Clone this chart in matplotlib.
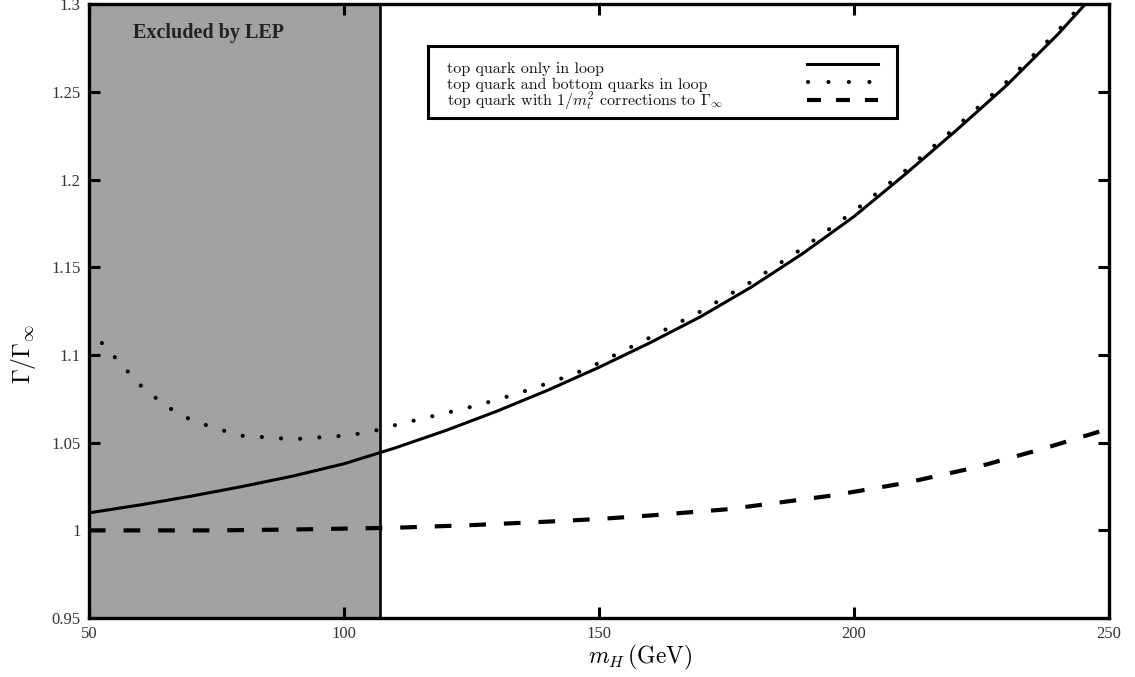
import matplotlib
matplotlib.use("Agg")
import matplotlib.pyplot as plt
from matplotlib.patches import Rectangle
from matplotlib.lines import Line2D

# ---- data ----
m_top = [50, 60, 70, 80, 90, 100, 110, 120, 130, 140, 150, 160, 170, 180,
         190, 200, 210, 220, 230, 240, 250]
r_top = [1.010, 1.0145, 1.0195, 1.025, 1.031, 1.038, 1.047, 1.057, 1.068, 1.080,
         1.093, 1.107, 1.122, 1.139, 1.158, 1.179, 1.203, 1.228, 1.254, 1.283, 1.315]

m_tb = [50, 55, 60, 65, 70, 75, 80, 85, 90, 95, 100, 105, 110, 115, 120, 125,
        130, 135, 140, 145, 150, 160, 170, 180, 190, 200, 210, 220, 230, 240, 250]
r_tb = [1.115, 1.099, 1.083, 1.071, 1.063, 1.058, 1.054, 1.053, 1.052, 1.053,
        1.054, 1.056, 1.060, 1.0635, 1.067, 1.0705, 1.0745, 1.079, 1.084, 1.089,
        1.0955, 1.110, 1.125, 1.142, 1.161, 1.182, 1.205, 1.230, 1.256, 1.285, 1.317]

m_corr = [50, 60, 75, 90, 100, 110, 125, 140, 150, 160, 175, 183, 196, 210,
          224, 237, 250]
r_corr = [1.000, 1.000, 1.000, 1.0005, 1.001, 1.0015, 1.003, 1.005, 1.0065,
          1.0085, 1.012, 1.015, 1.020, 1.027, 1.036, 1.0465, 1.058]

lep_bound = 107
x_ticks = [50, 100, 150, 200, 250]
y_ticks = [0.95, 1.0, 1.05, 1.1, 1.15, 1.2, 1.25, 1.3]
y_ticklabels = ["0.95", "1", "1.05", "1.1", "1.15", "1.2", "1.25", "1.3"]
labels = ["top quark only in loop",
          "top quark and bottom quarks in loop",
          r"top quark with $1/m_t^2$ corrections to $\Gamma_\infty$"]

plt.rcParams['mathtext.fontset'] = 'cm'

fig = plt.figure(figsize=(11.35, 6.77), dpi=100)
ax = fig.add_axes([0.0784, 0.0871, 0.977 - 0.0784, 0.9934 - 0.0871])

ax.axvspan(50, lep_bound, color='#a2a2a2', zorder=0, lw=0)
ax.axvline(lep_bound, color='black', lw=1.9, zorder=1)

styles = [
    dict(color='black', lw=2.2, linestyle='-'),
    dict(color='black', lw=3.0, linestyle=(0, (0.01, 4.6)), dash_capstyle='round'),
    dict(color='black', lw=3.0, linestyle=(0, (4.0, 4.3)), dash_capstyle='butt'),
]
ax.plot(m_top, r_top, zorder=3, **styles[0])
ax.plot(m_tb, r_tb, zorder=3, **styles[1])
ax.plot(m_corr, r_corr, zorder=3, **styles[2])

ax.set_xlim(50, 250)
ax.set_ylim(0.95, 1.3)
ax.set_xticks(x_ticks)
ax.set_yticks(y_ticks)
ax.set_yticklabels(y_ticklabels)
ax.tick_params(direction='in', length=8, width=2.2, top=True, right=True,
               labelsize=12, labelcolor='#333333', pad=6)
for lab in ax.get_xticklabels() + ax.get_yticklabels():
    lab.set_fontfamily('Liberation Serif')
for s in ax.spines.values():
    s.set_linewidth(2.4)

ax.set_xlabel(r"$m_H\,(\mathrm{GeV})$", fontsize=17, labelpad=2)
ax.xaxis.set_label_coords(0.54, -0.04)
ax.set_ylabel(r"$\Gamma/\Gamma_\infty$", fontsize=17, labelpad=2)
ax.yaxis.set_label_coords(-0.05, 0.43)

ax.text(0.1167, 0.9535, "Excluded by LEP", transform=ax.transAxes,
        fontfamily='Liberation Serif', fontweight='bold', fontsize=14.5,
        color='#222222', va='center', ha='center')

# ---- legend (text left, line samples right) ----
bx0, bx1, by0, by1 = 0.3324, 0.792, 0.815, 0.9324
ax.add_patch(Rectangle((bx0, by0), bx1 - bx0, by1 - by0, transform=ax.transAxes,
                       facecolor='white', edgecolor='black', lw=2.2, zorder=5))
text_y = [0.8885, 0.8630, 0.8345]
handle_y = [0.9030, 0.8737, 0.8443]
handle_x = [(0.704, 0.7735), (0.7045, 0.7653), (0.704, 0.7735)]
legend_styles = [
    styles[0],
    dict(color='black', lw=3.0, linestyle=(0, (0.01, 4.9)), dash_capstyle='round'),
    dict(color='black', lw=3.0, linestyle=(0, (3.35, 3.6)), dash_capstyle='butt'),
]
for lab, ty, hy, hx, st in zip(labels, text_y, handle_y, handle_x, legend_styles):
    ax.text(0.351, ty, lab, transform=ax.transAxes, fontfamily='cmr10',
            fontsize=11.5, va='baseline', ha='left', zorder=6, color='#111111')
    ax.add_line(Line2D(list(hx), [hy, hy], transform=ax.transAxes,
                       zorder=6, **st))

fig.savefig("out.png", dpi=100)
